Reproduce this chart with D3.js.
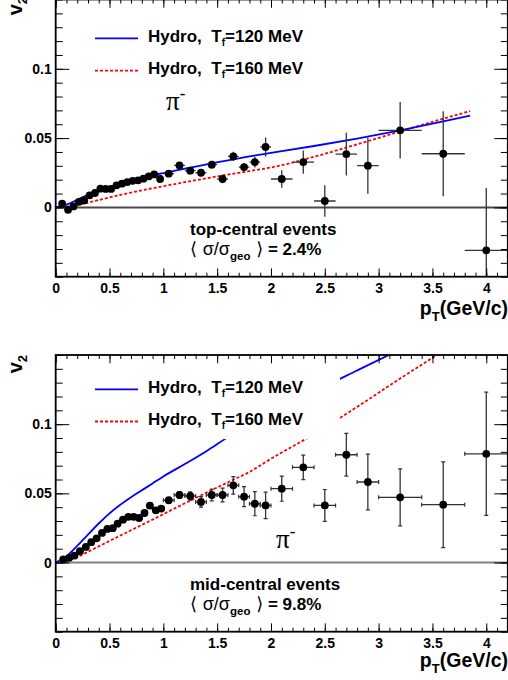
<!DOCTYPE html>
<meta charset="utf-8">
<head>
<title>v2 of pi- vs pT, hydro comparison</title>
<script src="https://cdn.jsdelivr.net/npm/d3@7"></script>
<style>
  body { margin: 0; background: #fff; }
  svg { display: block; font-family: "Liberation Sans", Arial, sans-serif; font-weight: bold; }
</style>
</head>
<body>
<svg id="fig" width="508" height="680"></svg>
<script>
// ---- data ----
// top-central events
var topPt   = [0.06,0.115,0.165,0.215,0.265,0.315,0.365,0.415,0.465,0.515,0.565,0.615,0.665,0.715,0.765,0.815,0.865,0.915,0.97,
               1.05,1.15,1.25,1.35,1.45,1.55,1.65,1.75,1.85,1.95, 2.1,2.3,2.5,2.7,2.9, 3.2,3.6,4.0];
var topV2   = [0.0027,-0.0017,0.0007,0.004,0.005,0.0087,0.0104,0.0135,0.0133,0.0133,0.0159,0.0171,0.0183,0.0192,0.0195,0.0207,0.0224,0.0238,0.0205,
               0.0243,0.0303,0.0265,0.025,0.0308,0.0205,0.0368,0.0291,0.0327,0.0436, 0.0205,0.0327,0.0046,0.0385,0.0301, 0.0556,0.0387,-0.031];
var topErrY = [0.0012,0.0012,0.0012,0.0012,0.0012,0.0012,0.0012,0.0012,0.0012,0.0012,0.0012,0.0012,0.0013,0.0013,0.0013,0.0014,0.0014,0.0015,0.0015,
               0.0018,0.002,0.0022,0.0025,0.0028,0.003,0.0034,0.003,0.004,0.0069, 0.0063,0.0084,0.0114,0.0154,0.0202, 0.0204,0.0307,0.045];
var topErrX = [0.025,0.025,0.025,0.025,0.025,0.025,0.025,0.025,0.025,0.025,0.025,0.025,0.025,0.025,0.025,0.025,0.025,0.025,0.025,
               0.05,0.05,0.05,0.05,0.05,0.05,0.05,0.05,0.05,0.05, 0.1,0.1,0.1,0.1,0.1, 0.2,0.2,0.2];

// mid-central events
var midPt   = [0.07,0.125,0.175,0.225,0.28,0.33,0.38,0.43,0.48,0.53,0.575,0.625,0.675,0.725,0.775,0.825,0.875,0.93,0.98,
               1.05,1.15,1.25,1.35,1.45,1.55,1.65,1.75,1.85,1.95, 2.1,2.3,2.5,2.7,2.9, 3.2,3.6,4.0];
var midV2   = [0.0022,0.0034,0.005,0.0082,0.0113,0.0147,0.0175,0.0214,0.0243,0.0248,0.0281,0.031,0.033,0.033,0.0322,0.0358,0.0411,0.0377,0.039,
               0.045,0.0488,0.0481,0.0438,0.0488,0.0488,0.0558,0.0476,0.0425,0.0413, 0.0534,0.0688,0.0413,0.0779,0.0582, 0.0471,0.0418,0.0786];
var midErrY = [0.0012,0.0012,0.0012,0.0012,0.0012,0.0012,0.0012,0.0012,0.0012,0.0012,0.0013,0.0013,0.0013,0.0014,0.0014,0.0015,0.0015,0.0016,0.0017,
               0.002,0.0025,0.003,0.0038,0.0042,0.005,0.0063,0.0072,0.0087,0.0096, 0.0091,0.0089,0.0115,0.0154,0.0202, 0.0206,0.031,0.0445];
var midErrX = topErrX;

// hydro curves
var hydroPt = [0,0.1,0.2,0.3,0.4,0.5,0.6,0.7,0.8,0.9,1.0,1.2,1.4,1.6,1.8,2.0,2.4,2.8,3.2,3.6,3.85];
var top120  = [0,0.002,0.0055,0.009,0.0122,0.0148,0.0172,0.0195,0.0213,0.0232,0.0248,0.028,0.031,0.034,0.0368,0.0393,0.0443,0.0497,0.0556,0.062,0.0662];
var top160  = [0,0.0005,0.0018,0.0034,0.0053,0.0072,0.009,0.0107,0.0123,0.0138,0.0153,0.0182,0.021,0.0237,0.0262,0.0288,0.0365,0.0455,0.0548,0.064,0.0695];
var mid120  = [0,0.0045,0.012,0.0202,0.0282,0.0355,0.0418,0.0472,0.0522,0.0572,0.0622,0.0712,0.0805,0.0905,0.099,0.1075,0.1235,0.1388,0.154,0.169,0.178];
var mid160  = [0,0.0012,0.004,0.0078,0.0117,0.0156,0.0195,0.0233,0.0272,0.031,0.035,0.0428,0.0505,0.058,0.0655,0.075,0.0928,0.1125,0.133,0.153,0.166];

// ticks
var xMajor = [0,0.5,1,1.5,2,2.5,3,3.5,4];
var xLabels = ["0","0.5","1","1.5","2","2.5","3","3.5","4"];
var yMajor = [0,0.05,0.1];
var yLabels = ["0","0.05","0.1"];

// ---- layout ----
var svg = d3.select("#fig");
var x = d3.scaleLinear().domain([0, 4.2]).range([55.7, 507.8]);

var panels = [
  {top: -0.5, bottom: 276.7, pt: topPt, v2: topV2, ex: topErrX, ey: topErrY, h120: top120, h160: top160, caps: false,
   leg: [38.3, 70.7], box: [7, 84], cent: "top-central events", frac: "2.4%", textY: [235, 255], pi: [166, 110],
   zero: "#4a4a4a", titleY: -3, xTitleY: 315},
  {top: 355, bottom: 631.7, pt: midPt, v2: midV2, ex: midErrX, ey: midErrY, h120: mid120, h160: mid160, caps: true,
   leg: [389.3, 421.5], box: [362, 439], cent: "mid-central events", frac: "9.8%", textY: [590, 610], pi: [276, 548],
   zero: "#808080", titleY: 355, xTitleY: 667}
];

panels.forEach(function(p, k) {
  var y = d3.scaleLinear().domain([-0.05, 0.15]).range([p.bottom, p.top]);
  var g = svg.append("g");

  svg.append("clipPath").attr("id", "clip" + k).append("rect")
     .attr("x", x(0)).attr("y", p.top).attr("width", x(4.2) - x(0)).attr("height", p.bottom - p.top);

  // zero line
  g.append("line").attr("x1", x(0)).attr("x2", x(4.2)).attr("y1", y(0)).attr("y2", y(0))
   .attr("stroke", p.zero).attr("stroke-width", 2);

  // hydro curves
  var line = d3.line().x(function(d, i) { return x(hydroPt[i]); }).y(function(d) { return y(d); }).curve(d3.curveMonotoneX);
  var cg = g.append("g").attr("clip-path", "url(#clip" + k + ")");
  cg.append("path").attr("d", line(p.h160)).attr("fill", "none").attr("stroke", "#ff0000")
    .attr("stroke-width", 1.8).attr("stroke-dasharray", "3,2");
  cg.append("path").attr("d", line(p.h120)).attr("fill", "none").attr("stroke", "#0000ff").attr("stroke-width", 1.8);

  // data points with errors
  var dg = g.append("g").attr("clip-path", "url(#clip" + k + ")");
  var idx = d3.range(p.pt.length);
  dg.selectAll(".ey").data(idx).enter().append("line")
    .attr("x1", function(i) { return x(p.pt[i]); }).attr("x2", function(i) { return x(p.pt[i]); })
    .attr("y1", function(i) { return y(p.v2[i] - p.ey[i]); }).attr("y2", function(i) { return y(p.v2[i] + p.ey[i]); })
    .attr("stroke", "#333").attr("stroke-width", 1.3);
  dg.selectAll(".ex").data(idx).enter().append("line")
    .attr("x1", function(i) { return x(p.pt[i] - p.ex[i]); }).attr("x2", function(i) { return x(p.pt[i] + p.ex[i]); })
    .attr("y1", function(i) { return y(p.v2[i]); }).attr("y2", function(i) { return y(p.v2[i]); })
    .attr("stroke", "#333").attr("stroke-width", 1.3);
  if (p.caps) {
    [-1, 1].forEach(function(s) {
      dg.selectAll(".cy").data(idx).enter().append("line")
        .attr("x1", function(i) { return x(p.pt[i]) - 2; }).attr("x2", function(i) { return x(p.pt[i]) + 2; })
        .attr("y1", function(i) { return y(p.v2[i] + s * p.ey[i]); }).attr("y2", function(i) { return y(p.v2[i] + s * p.ey[i]); })
        .attr("stroke", "#333").attr("stroke-width", 1.2);
      dg.selectAll(".cx").data(idx).enter().append("line")
        .attr("x1", function(i) { return x(p.pt[i] + s * p.ex[i]); }).attr("x2", function(i) { return x(p.pt[i] + s * p.ex[i]); })
        .attr("y1", function(i) { return y(p.v2[i]) - 2; }).attr("y2", function(i) { return y(p.v2[i]) + 2; })
        .attr("stroke", "#333").attr("stroke-width", 1.2);
    });
  }
  dg.selectAll("circle").data(idx).enter().append("circle")
    .attr("cx", function(i) { return x(p.pt[i]); }).attr("cy", function(i) { return y(p.v2[i]); })
    .attr("r", 3.9).attr("fill", "#000");

  // legend (white box hides curves behind it)
  g.append("rect").attr("x", 62).attr("y", p.box[0]).attr("width", 340 - 62).attr("height", p.box[1] - p.box[0]).attr("fill", "#fff");
  g.append("line").attr("x1", 95).attr("x2", 138).attr("y1", p.leg[0]).attr("y2", p.leg[0])
   .attr("stroke", "#0000ff").attr("stroke-width", 1.8);
  g.append("line").attr("x1", 95).attr("x2", 138).attr("y1", p.leg[1]).attr("y2", p.leg[1])
   .attr("stroke", "#ff0000").attr("stroke-width", 1.8).attr("stroke-dasharray", "3,2");
  ["120", "160"].forEach(function(t, j) {
    var tx = g.append("text").attr("x", 148).attr("y", p.leg[j] + 3.5).attr("font-size", 17).style("white-space", "pre");
    tx.append("tspan").text("Hydro,  T");
    tx.append("tspan").attr("font-size", 10).attr("dy", 4).text("f");
    tx.append("tspan").attr("dy", -4).text("=" + t + " MeV");
  });

  // pi- label
  var pt = g.append("text").attr("x", p.pi[0]).attr("y", p.pi[1])
    .attr("font-family", "'Liberation Serif', serif").attr("font-weight", "normal").attr("font-size", 27);
  pt.append("tspan").text("\u03c0");
  pt.append("tspan").attr("font-size", 17).attr("font-weight", "bold").attr("dy", -11).text("-");

  // centrality text
  g.append("text").attr("x", 190).attr("y", p.textY[0]).attr("font-size", 17).text(p.cent);
  var ct = g.append("text").attr("x", 190).attr("y", p.textY[1]).attr("font-size", 17).style("white-space", "pre");
  ct.append("tspan").attr("font-family", "'DejaVu Sans', sans-serif").attr("font-weight", "normal").attr("font-size", 18).text("\u27e8 ");
  ct.append("tspan").attr("font-weight", "normal").attr("font-size", 18).text("\u03c3/\u03c3");
  ct.append("tspan").attr("font-size", 11.5).attr("dy", 5).text("geo");
  ct.append("tspan").attr("font-family", "'DejaVu Sans', sans-serif").attr("font-weight", "normal").attr("font-size", 18).attr("dy", -5).text(" \u27e9");
  ct.append("tspan").text(" = " + p.frac);

  // axes with inward ticks
  var ax = svg.append("g");
  function styleAxis(a) { a.attr("font-family", null).attr("font-size", 14).select(".domain").remove(); }
  var minorY = d3.range(-5, 16).map(function(v) { return v / 100; });
  var minorX = d3.range(0, 43).map(function(v) { return v / 10; });

  ax.append("g").attr("transform", "translate(" + x(0) + ",0)")
    .call(d3.axisLeft(y).tickValues(minorY).tickSize(-7).tickFormat("")).call(styleAxis);
  ax.append("g").attr("transform", "translate(" + x(0) + ",0)")
    .call(d3.axisLeft(y).tickValues(yMajor).tickSize(-13.5).tickPadding(4)
      .tickFormat(function(d, i) { return yLabels[i]; })).call(styleAxis);
  ax.append("g").attr("transform", "translate(" + x(4.2) + ",0)")
    .call(d3.axisRight(y).tickValues(minorY).tickSize(-7).tickFormat("")).call(styleAxis);
  ax.append("g").attr("transform", "translate(" + x(4.2) + ",0)")
    .call(d3.axisRight(y).tickValues(yMajor).tickSize(-13.5).tickFormat("")).call(styleAxis);

  ax.append("g").attr("transform", "translate(0," + p.bottom + ")")
    .call(d3.axisBottom(x).tickValues(minorX).tickSize(-4).tickFormat("")).call(styleAxis);
  ax.append("g").attr("transform", "translate(0," + p.bottom + ")")
    .call(d3.axisBottom(x).tickValues(xMajor).tickSize(-8.3).tickPadding(6)
      .tickFormat(function(d, i) { return xLabels[i]; })).call(styleAxis);
  ax.append("g").attr("transform", "translate(0," + p.top + ")")
    .call(d3.axisTop(x).tickValues(minorX).tickSize(-4).tickFormat("")).call(styleAxis);
  ax.append("g").attr("transform", "translate(0," + p.top + ")")
    .call(d3.axisTop(x).tickValues(xMajor).tickSize(-8.3).tickFormat("")).call(styleAxis);
  ax.selectAll("text").attr("font-weight", "bold");

  // frame
  ax.append("rect").attr("x", x(0)).attr("y", p.top).attr("width", x(4.2) - x(0)).attr("height", p.bottom - p.top)
    .attr("fill", "none").attr("stroke", "#000").attr("stroke-width", 1.8);

  // axis titles
  var yt = svg.append("text").attr("transform", "translate(22," + p.titleY + ") rotate(-90)")
    .attr("text-anchor", "end").attr("font-size", 20);
  yt.append("tspan").text("v");
  yt.append("tspan").attr("font-size", 13).attr("dy", 5).text("2");

  var xt = svg.append("text").attr("x", 508).attr("y", p.xTitleY).attr("text-anchor", "end").attr("font-size", 19.5);
  xt.append("tspan").text("p");
  xt.append("tspan").attr("font-size", 13).attr("dy", 6).text("T");
  xt.append("tspan").attr("dy", -6).text("(GeV/c)");
});
</script>
</body>
</html>
